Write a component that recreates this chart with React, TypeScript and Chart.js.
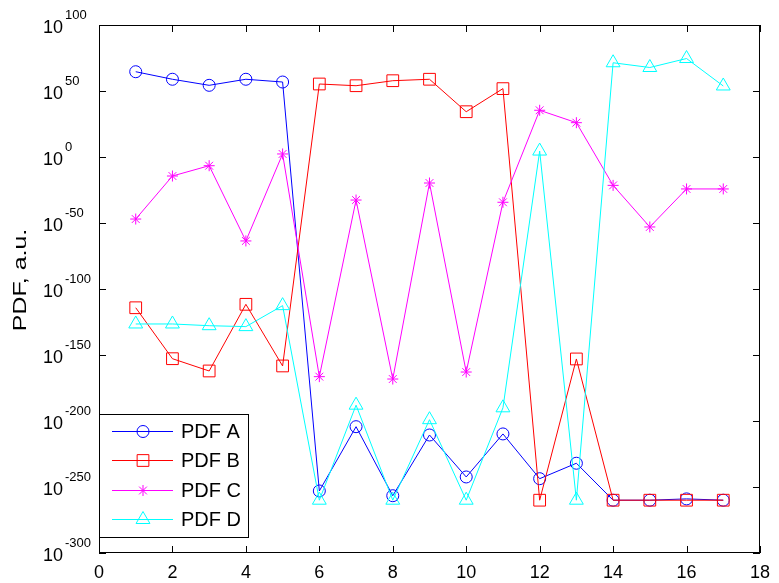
import React, { useEffect, useRef } from "react";
import { Chart, registerables } from "chart.js";
import { drawPoint } from "chart.js/helpers";

Chart.register(...registerables);

// x positions (sample index)
const xValues = [1, 2, 3, 4, 5, 6, 7, 8, 9, 10, 11, 12, 13, 14, 15, 16, 17];
// series values as log10(PDF)
const pdfALog10 = [64.6, 58.9, 54.3, 58.9, 56.8, -253, -204.3, -256.6, -210.6, -242.4, -209.8, -243.7, -232, -260, -260, -259, -260];
const pdfBLog10 = [-114.2, -152.8, -162.1, -111.6, -158.3, 55.3, 54, 57.8, 58.9, 34.3, 51.8, -260, -153, -260, -260, -260, -260];
const pdfCLog10 = [-47, -14.4, -6.6, -63.6, 2.3, -166.4, -32.6, -168.2, -19.7, -162.9, -34.3, 35.4, 26, -21.5, -53, -24.2, -24.2];
const pdfDLog10 = [-126.5, -126.5, -127.8, -128.5, -112.6, -260, -188, -260, -199, -260, -190, 4.5, -260, 71.4, 67.8, 74.6, 53.8];

const seriesNames = ["PDF A", "PDF B", "PDF C", "PDF D"];
const xTicks = [0, 2, 4, 6, 8, 10, 12, 14, 16, 18];
const yTickExponents = [100, 50, 0, -50, -100, -150, -200, -250, -300];
const yTitle = "PDF, a.u.";

const FONT = "'Liberation Sans', Arial, sans-serif";

const axesPlugin = {
  id: "matlabAxes",
  afterDraw(chart: any) {
    const ctx = chart.ctx;
    const { left, right, top, bottom } = chart.chartArea;
    const xs = chart.scales.x;
    const ys = chart.scales.y;
    const tick = 7;
    ctx.save();
    ctx.strokeStyle = "#000";
    ctx.lineWidth = 1;
    // box
    ctx.strokeRect(left + 0.5, top + 0.5, right - left - 1, bottom - top - 1);
    ctx.beginPath();
    for (const v of xTicks) {
      const px = Math.round(xs.getPixelForValue(v)) + 0.5;
      ctx.moveTo(px, bottom);
      ctx.lineTo(px, bottom - tick);
      ctx.moveTo(px, top);
      ctx.lineTo(px, top + tick);
    }
    for (const e of yTickExponents) {
      const py = Math.round(ys.getPixelForValue(e)) + 0.5;
      ctx.moveTo(left, py);
      ctx.lineTo(left + tick, py);
      ctx.moveTo(right, py);
      ctx.lineTo(right - tick, py);
    }
    ctx.stroke();

    // y tick labels 10^e
    ctx.fillStyle = "#000";
    for (const e of yTickExponents) {
      const py = ys.getPixelForValue(e);
      ctx.font = `18px ${FONT}`;
      ctx.textAlign = "right";
      ctx.textBaseline = "alphabetic";
      ctx.fillText("10", 63, py + 8);
      ctx.font = `13px ${FONT}`;
      ctx.textAlign = "left";
      ctx.fillText(String(e), 65, py - 6);
    }

    // y title
    ctx.save();
    ctx.translate(26, (top + bottom) / 2 - 9);
    ctx.rotate(-Math.PI / 2);
    ctx.scale(1.31, 1);
    ctx.font = `19px ${FONT}`;
    ctx.textAlign = "center";
    ctx.textBaseline = "alphabetic";
    ctx.fillText(yTitle, 0, 0);
    ctx.restore();

    // legend
    const lx0 = left, ly0 = 414, lw = 149, lh = 123;
    ctx.fillStyle = "#fff";
    ctx.fillRect(lx0, ly0, lw, lh);
    ctx.strokeStyle = "#000";
    ctx.lineWidth = 1;
    ctx.strokeRect(lx0 + 0.5, ly0 + 0.5, lw, lh);
    chart.data.datasets.forEach((ds: any, i: number) => {
      const cy = Math.round(431 + i * 29.3) + 0.5;
      ctx.strokeStyle = ds.borderColor;
      ctx.lineWidth = 1;
      ctx.beginPath();
      ctx.moveTo(lx0 + 13, cy);
      ctx.lineTo(lx0 + 74, cy);
      ctx.stroke();
      ctx.fillStyle = "rgba(0,0,0,0)";
      ctx.strokeStyle = ds.borderColor;
      drawPoint(ctx, {
        pointStyle: ds.pointStyle,
        radius: ds.pointRadius,
        borderWidth: 1,
        rotation: 0,
      } as any, lx0 + 44, cy);
      ctx.fillStyle = "#000";
      ctx.font = `20px ${FONT}`;
      ctx.textAlign = "left";
      ctx.textBaseline = "middle";
      ctx.fillText(ds.label, lx0 + 82, cy + 1);
    });
    ctx.restore();
  },
};

function makeDataset(label: string, vals: number[], color: string, style: string, radius: number, order: number) {
  return {
    label,
    data: xValues.map((x, i) => ({ x, y: vals[i] })),
    borderColor: color,
    backgroundColor: "rgba(0,0,0,0)",
    pointBorderColor: color,
    pointBackgroundColor: "rgba(0,0,0,0)",
    pointStyle: style,
    pointRadius: radius,
    pointBorderWidth: 1,
    borderWidth: 1,
    tension: 0,
    order,
  };
}

export default function App() {
  const ref = useRef<HTMLCanvasElement | null>(null);
  useEffect(() => {
    if (!ref.current) return;
    const chart = new Chart(ref.current, {
      type: "line",
      data: {
        datasets: [
          makeDataset(seriesNames[0], pdfALog10, "#0000ff", "circle", 6, 3),
          makeDataset(seriesNames[1], pdfBLog10, "#ff0000", "rect", 8.3, 2),
          makeDataset(seriesNames[2], pdfCLog10, "#ff00ff", "star", 5.5, 1),
          makeDataset(seriesNames[3], pdfDLog10, "#00ffff", "triangle", 8, 0),
        ],
      },
      options: {
        animation: false,
        responsive: false,
        devicePixelRatio: 1,
        layout: { padding: { left: 99, right: 11, top: 25, bottom: 0 } },
        plugins: { legend: { display: false }, tooltip: { enabled: false } },
        scales: {
          x: {
            type: "linear",
            min: 0,
            max: 18,
            grid: { display: false, drawTicks: false },
            border: { display: false },
            afterBuildTicks: (s: any) => {
              s.ticks = xTicks.map((v) => ({ value: v }));
            },
            afterFit: (s: any) => {
              s.height = 30;
            },
            ticks: {
              color: "#000",
              font: { family: FONT, size: 18 },
              padding: 9,
              maxRotation: 0,
              autoSkip: false,
            },
          },
          y: {
            type: "linear",
            display: false,
            min: -300,
            max: 100,
          },
        },
      } as any,
      plugins: [axesPlugin],
    });
    return () => chart.destroy();
  }, []);
  return (
    <div style={{ position: "absolute", left: 0, top: 0, width: 779, height: 583, background: "#fff" }}>
      <canvas ref={ref} width={779} height={583} style={{ display: "block" }} />
    </div>
  );
}
